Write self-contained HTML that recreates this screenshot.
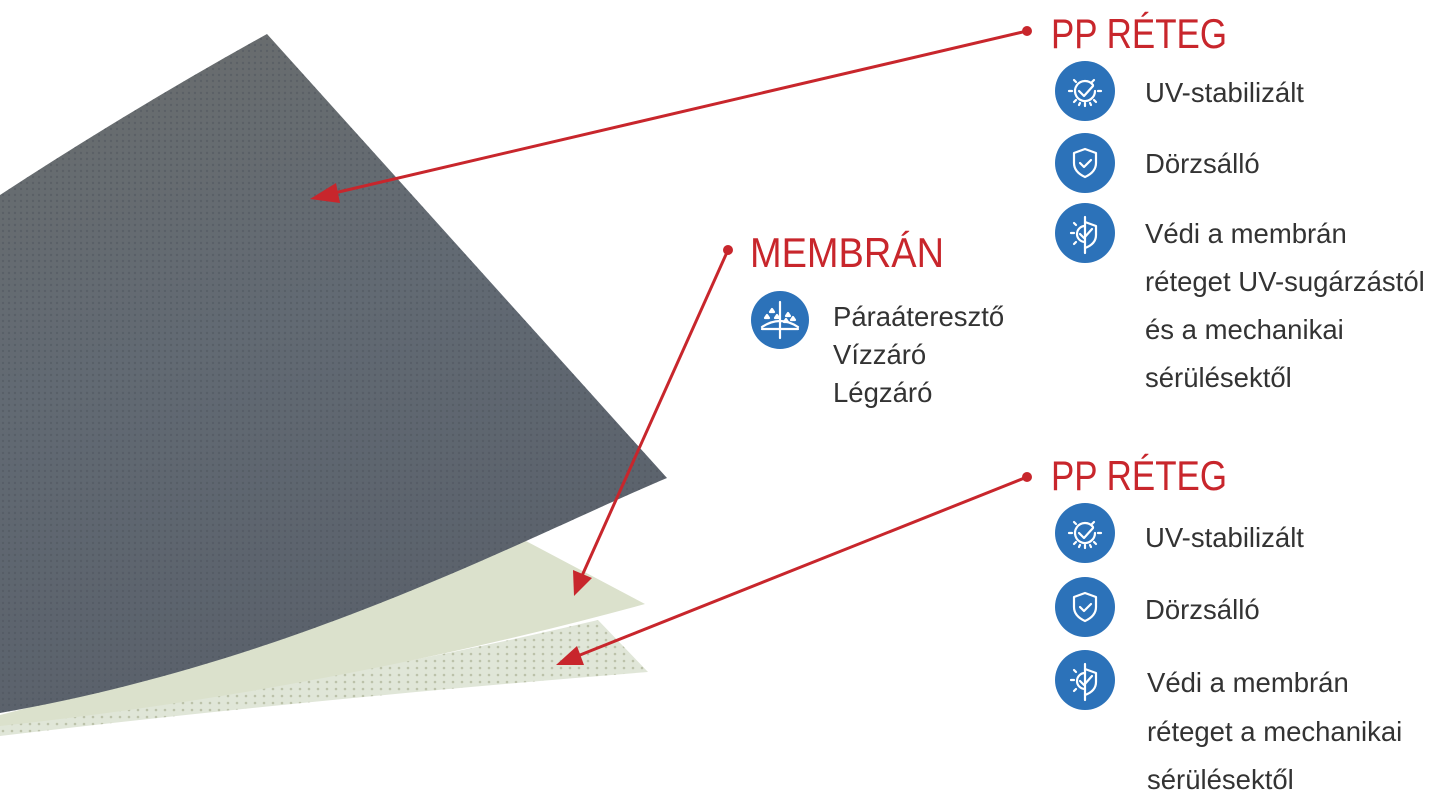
<!DOCTYPE html>
<html><head><meta charset="utf-8"><style>
html,body{margin:0;padding:0;background:#fff;width:1440px;height:800px;overflow:hidden}
svg{display:block}
.t{font-family:"Liberation Sans",sans-serif;font-size:27.5px;fill:#333}
.h{font-family:"Liberation Sans",sans-serif;font-size:42px;fill:#c8262c}
.ic{fill:none;stroke:#fff;stroke-width:2.2;stroke-linecap:round;stroke-linejoin:round}
</style></head><body>
<svg width="1440" height="800" viewBox="0 0 1440 800" xmlns="http://www.w3.org/2000/svg">
<defs>
<linearGradient id="g" x1="0" y1="0" x2="0.3" y2="1">
<stop offset="0" stop-color="#6a6d6d"/><stop offset="0.5" stop-color="#626a73"/><stop offset="1" stop-color="#5a616b"/></linearGradient>
<pattern id="dots" width="9" height="7" patternUnits="userSpaceOnUse"><circle cx="3" cy="3" r="1.3" fill="#bcc2aa"/></pattern>
<pattern id="weave" width="6" height="6" patternUnits="userSpaceOnUse"><circle cx="3" cy="3" r="1.2" fill="#4b525c" opacity="0.45"/></pattern>
</defs>
<path d="M0,736 Q300,700 648,672 L598,620 Q300,690 0,725 Z" fill="#e0e6d8"/>
<path d="M0,736 Q300,700 648,672 L598,620 Q300,690 0,725 Z" fill="url(#dots)"/>
<path d="M0,726 Q330,690 645,604 L490,522 Q300,640 0,715 Z" fill="#dbe1cc"/>
<path d="M0,195 Q130,110 267,34 L667,478 C520,540 300,660 0,713 Z" fill="url(#g)"/>
<path d="M0,195 Q130,110 267,34 L667,478 C520,540 300,660 0,713 Z" fill="url(#weave)"/>
<g stroke="#c8262c" stroke-width="3" fill="#c8262c">
<line x1="1027" y1="31" x2="330" y2="194"/>
<polygon points="310,199 336,183 340,203" stroke="none"/>
<circle cx="1027" cy="31" r="5" stroke="none"/>
<line x1="728" y1="250" x2="581" y2="578"/>
<polygon points="574,596 573,570 592,578" stroke="none"/>
<circle cx="728" cy="250" r="5" stroke="none"/>
<line x1="1027" y1="477" x2="575" y2="657"/>
<polygon points="556,665 577,646 584,665" stroke="none"/>
<circle cx="1027" cy="477" r="5" stroke="none"/>
</g>
<text class="h" x="1051" y="48" textLength="176" lengthAdjust="spacingAndGlyphs">PP RÉTEG</text>
<text class="h" x="750" y="267" textLength="194" lengthAdjust="spacingAndGlyphs">MEMBRÁN</text>
<text class="h" x="1051" y="490" textLength="176" lengthAdjust="spacingAndGlyphs">PP RÉTEG</text>
<g id="sun">
<circle cx="1085" cy="91" r="30" fill="#2c72b9"/>
<g class="ic"><path d="M1093,85 a10,10 0 1 0 2,6"/><path d="M1079,91 l5,5 l9,-10"/>
<path d="M1069,91h3M1098,91h3M1074,80l2,2M1094,80l-2,2M1074,102l2,-2M1096,102l-2,-2M1085,106v-3M1079,105l1,-2M1091,105l-1,-2"/></g>
</g>
<g id="shield">
<circle cx="1085" cy="163" r="30" fill="#2c72b9"/>
<g class="ic"><path d="M1085,149 l11,4 v10 q0,9 -11,14 q-11,-5 -11,-14 v-10 z"/><path d="M1080,163 l4,4 l7,-7"/></g>
</g>
<g id="both">
<circle cx="1085" cy="233" r="30" fill="#2c72b9"/>
<g class="ic"><path d="M1085,217v36"/><path d="M1085,222 l11,4 v9 q0,9 -11,13"/><path d="M1085,226 a8,8 0 0 0 0,16"/><path d="M1080,234 l4,4 l8,-9"/><path d="M1071,233h3M1074,223l2,2M1074,244l2,-2"/></g>
</g>
<use href="#sun" y="442"/>
<use href="#shield" y="444"/>
<use href="#both" y="447"/>
<circle cx="780" cy="320" r="29" fill="#2c72b9"/>
<g class="ic" stroke-width="1.6"><path d="M780,302v36"/><path d="M762,327 q18,-12 36,0 M762,329h36"/>
<path d="M765,318l2,-3 2,3z M770,312l2,-3 2,3z M775,318l2,-3 2,3z M786,316l2,-3 2,3z M791,320l2,-3 2,3z M784,322l2,-3 2,3z"/></g>
<text class="t" x="1145" y="102">UV-stabilizált</text>
<text class="t" x="1145" y="173">Dörzsálló</text>
<text class="t" x="1145" y="243">Védi a membrán</text>
<text class="t" x="1145" y="291">réteget UV-sugárzástól</text>
<text class="t" x="1145" y="339">és a mechanikai</text>
<text class="t" x="1145" y="387">sérülésektől</text>
<text class="t" x="833" y="326">Páraáteresztő</text>
<text class="t" x="833" y="364">Vízzáró</text>
<text class="t" x="833" y="402">Légzáró</text>
<text class="t" x="1145" y="547">UV-stabilizált</text>
<text class="t" x="1145" y="619">Dörzsálló</text>
<text class="t" x="1147" y="692">Védi a membrán</text>
<text class="t" x="1147" y="741">réteget a mechanikai</text>
<text class="t" x="1147" y="789">sérülésektől</text>
</svg>
</body></html>
